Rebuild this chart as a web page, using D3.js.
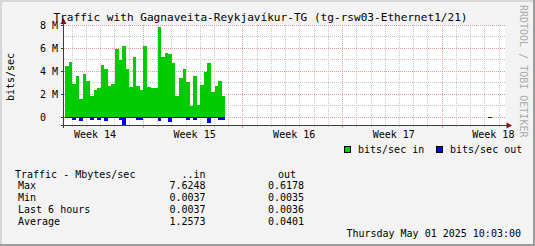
<!DOCTYPE html>
<html>
<head>
<meta charset="utf-8">
<script src="https://cdn.jsdelivr.net/npm/d3@7"></script>
<style>
    body { margin: 0; background: #f3f3f3; }
    svg { display: block; font-family: "DejaVu Sans Mono", monospace; }
</style>
</head>
<body>
<svg id="chart" width="535" height="246"></svg>
<script>
const title = "Traffic with Gagnaveita-Reykjavíkur-TG (tg-rsw03-Ethernet1/21)";
const graphStart = new Date("2025-03-31T10:03:00Z");
const graphEnd = new Date("2025-05-01T10:03:00Z");
const stepMs = 6 * 3600 * 1000;

// 6 hour samples, Mbit/s
const burstStart = new Date("2025-03-31T12:00:00Z");
const inMbits = [4.45, 4.77, 2.9, 3.59, 1.6, 3.76, 3.1, 1.86, 2.38, 2.5,
    4.54, 4.17, 2.72, 2.9, 5.93, 4.97, 6.18, 4.2, 2.58, 5.2,
    2.72, 2.38, 6.18, 2.64, 2.5, 2.5, 7.8, 5.23, 5.6, 5.46,
    4.69, 1.86, 3.36, 4.17, 3.01, 1.0, 3.53, 1.08, 2.81, 3.88,
    4.69, 2.15, 2.72, 3.18, 1.86];
const outMbits = [0.004, 0.004, 0.28, 0.004, 0.3, 0.004, 0.004, 0.25, 0.004, 0.25,
    0.004, 0.3, 0.004, 0.004, 0.004, 0.25, 0.66, 0.004, 0.004, 0.004,
    0.25, 0.25, 0.004, 0.004, 0.004, 0.004, 0.3, 0.004, 0.004, 0.42,
    0.004, 0.004, 0.06, 0.004, 0.25, 0.004, 0.25, 0.004, 0.004, 0.004,
    0.5, 0.004, 0.004, 0.25, 0.25];
const tailStart = new Date("2025-04-30T06:00:00Z");
const tailIn = [0.0037];
const tailOut = [0.0036];

const yTicks = [0, 2, 4, 6, 8];
const yTickLabels = ["0", "2 M", "4 M", "6 M", "8 M"];
const yMinorTicks = [1, 3, 5, 7];
const weekStarts = ["2025-03-30", "2025-04-06", "2025-04-13", "2025-04-20", "2025-04-27"];
const weekLabels = ["Week 14", "Week 15", "Week 16", "Week 17", "Week 18"];

const legendLabels = ["bits/sec in", "bits/sec out"];
const statHeader = ["Traffic - Mbytes/sec", "..in", "out"];
const statRows = ["Max", "Min", "Last 6 hours", "Average"];
const statIn = ["7.6248", "0.0037", "0.0037", "1.2573"];
const statOut = ["0.6178", "0.0035", "0.0036", "0.0401"];
const footer = "Thursday May 01 2025 10:03:00";
const watermark = "RRDTOOL / TOBI OETIKER";

const IN_COLOR = "#00cc00", OUT_COLOR = "#0000ff";
const GRID = "#c4c4c4", MGRID = "#e39c9c", AXIS = "#3c3c3c", ARROW = "#8b1010";

function makeChart(selector) {
    const svg = d3.select(selector);
    const W = 535, H = 246;
    const left = 64, right = 505, top = 25, bottom = 125.3;
    const x = d3.scaleUtc().domain([graphStart, graphEnd]).range([left, right]);
    const y = d3.scaleLinear().domain([-0.71, 8]).range([bottom, top]);
    const px = v => Math.floor(v) + 0.5;

    // frame
    svg.append('rect').attr('width', W).attr('height', H).attr('fill', '#f3f3f3');
    svg.append('path').attr('d', `M0,0H${W}V2H2V${H}H0Z`).attr('fill', '#d6d6d6');
    svg.append('path').attr('d', `M${W},${H}H0V${H - 2}H${W - 2}V0H${W}Z`).attr('fill', '#9c9c9c');

    svg.append('rect')
        .attr('x', left).attr('y', top)
        .attr('width', right - left).attr('height', bottom - top)
        .attr('fill', '#fff');

    // grid
    const grid = svg.append('g').attr('stroke-width', 1).attr('stroke-dasharray', '1,1');
    const sundays = weekStarts.map(d => new Date(d + "T00:00:00Z"));
    const days = d3.utcDay.range(graphStart, graphEnd)
        .filter(d => d.getUTCDay() !== 0);
    grid.selectAll('.vminor').data(days).join('line')
        .attr('x1', d => px(x(d))).attr('x2', d => px(x(d)))
        .attr('y1', top).attr('y2', bottom)
        .attr('stroke', GRID);
    grid.selectAll('.hminor').data(yMinorTicks).join('line')
        .attr('x1', left).attr('x2', right)
        .attr('y1', d => px(y(d))).attr('y2', d => px(y(d)))
        .attr('stroke', GRID);
    const majorDays = sundays.filter(d => d > graphStart);
    grid.selectAll('.vmajor').data(majorDays).join('line')
        .attr('x1', d => px(x(d))).attr('x2', d => px(x(d)))
        .attr('y1', top).attr('y2', bottom)
        .attr('stroke', MGRID);
    grid.selectAll('.hmajor').data(yTicks).join('line')
        .attr('x1', left).attr('x2', right)
        .attr('y1', d => px(y(d))).attr('y2', d => px(y(d)))
        .attr('stroke', MGRID);

    // data
    const series = (start, vals) => {
        let pts = vals.map((v, i) => ({ t: new Date(+start + i * stepMs), v: v }));
        pts.push({ t: new Date(+start + vals.length * stepMs), v: vals[vals.length - 1] });
        return pts;
    };
    const inArea = d3.area().curve(d3.curveStepAfter)
        .x(d => x(d.t)).y0(y(0)).y1(d => y(d.v));
    const outArea = d3.area().curve(d3.curveStepAfter)
        .x(d => x(d.t)).y0(y(0)).y1(d => Math.max(y(-d.v), y(0) + 1));

    svg.append('clipPath').attr('id', 'plot-clip')
        .append('rect').attr('x', left).attr('y', top - 5)
        .attr('width', right - left).attr('height', bottom - top + 5);
    const marks = svg.append('g').attr('clip-path', 'url(#plot-clip)')
        .attr('shape-rendering', 'crispEdges');
    [[burstStart, inMbits, outMbits], [tailStart, tailIn, tailOut]].forEach(([start, vin, vout]) => {
        marks.append('path').attr('d', inArea(series(start, vin))).attr('fill', IN_COLOR);
        marks.append('path').attr('d', outArea(series(start, vout))).attr('fill', OUT_COLOR);
    });

    // axes
    const axis = svg.append('g').attr('shape-rendering', 'crispEdges');
    axis.selectAll('.xtick').data(days).join('line')
        .attr('x1', d => px(x(d))).attr('x2', d => px(x(d)))
        .attr('y1', bottom).attr('y2', bottom + 2).attr('stroke', GRID);
    axis.selectAll('.xmtick').data(majorDays).join('line')
        .attr('x1', d => px(x(d))).attr('x2', d => px(x(d)))
        .attr('y1', bottom).attr('y2', bottom + 3).attr('stroke', MGRID);
    axis.selectAll('.ytick').data(yTicks).join('line')
        .attr('x1', left - 3).attr('x2', left)
        .attr('y1', d => px(y(d))).attr('y2', d => px(y(d))).attr('stroke', AXIS);
    axis.append('line')
        .attr('x1', left - 3).attr('x2', right + 2)
        .attr('y1', px(bottom)).attr('y2', px(bottom))
        .attr('stroke', AXIS);
    axis.append('line')
        .attr('x1', px(left - 1)).attr('x2', px(left - 1))
        .attr('y1', bottom + 3).attr('y2', top - 2)
        .attr('stroke', AXIS);
    svg.append('path')
        .attr('d', `M${right + 1.5},${px(bottom) - 3}L${right + 7},${px(bottom)}L${right + 1.5},${px(bottom) + 3}Z`)
        .attr('fill', ARROW);
    svg.append('path')
        .attr('d', `M${px(left - 1) - 3},${top - 1}L${px(left - 1)},${top - 7}L${px(left - 1) + 3},${top - 1}Z`)
        .attr('fill', ARROW);

    // labels
    const txt = svg.append('g').attr('font-size', '10px').attr('fill', '#000');
    txt.selectAll('.ylab').data(yTicks).join('text')
        .attr('x', 40).attr('y', d => y(d)).attr('dy', '0.36em')
        .text((d, i) => yTickLabels[i]);
    txt.selectAll('.xlab').data(weekLabels).join('text')
        .attr('x', (d, i) => x(new Date(+sundays[i] + 3.6 * 864e5)))
        .attr('y', 134.7).attr('dy', '0.36em')
        .attr('text-anchor', 'middle')
        .text(d => d);
    txt.append('text')
        .attr('transform', 'translate(10.8,77) rotate(-90)')
        .attr('text-anchor', 'middle').attr('dy', '0.36em')
        .text('bits/sec');
    svg.append('text')
        .attr('x', 260.5).attr('y', 16.7).attr('dy', '0.36em')
        .attr('text-anchor', 'middle').attr('font-size', '11.1px')
        .text(title);
    svg.append('text')
        .attr('transform', 'translate(523.3,5) rotate(90)')
        .attr('dy', '0.36em').attr('font-size', '10px').attr('fill', '#aaa')
        .text(watermark);

    // legend
    const legendX = [344, 436];
    [IN_COLOR, OUT_COLOR].forEach((c, i) => {
        svg.append('rect')
            .attr('x', legendX[i] + 0.5).attr('y', 146.5)
            .attr('width', 6).attr('height', 6)
            .attr('fill', c).attr('stroke', '#000');
        txt.append('text')
            .attr('x', legendX[i] + 14).attr('y', 149.5).attr('dy', '0.36em')
            .text(legendLabels[i]);
    });

    // stats table
    const rowY = [174.3, 185.5, 197.5, 209.5, 221.5];
    txt.append('text').attr('x', 15).attr('y', rowY[0]).attr('dy', '0.36em').text(statHeader[0]);
    txt.append('text').attr('x', 205.5).attr('y', rowY[0]).attr('dy', '0.36em')
        .attr('text-anchor', 'end').text(statHeader[1]);
    txt.append('text').attr('x', 278).attr('y', rowY[0]).attr('dy', '0.36em').text(statHeader[2]);
    statRows.forEach((r, i) => {
        txt.append('text').attr('x', 18).attr('y', rowY[i + 1]).attr('dy', '0.36em').text(r);
        txt.append('text').attr('x', 205.5).attr('y', rowY[i + 1]).attr('dy', '0.36em')
            .attr('text-anchor', 'end').text(statIn[i]);
        txt.append('text').attr('x', 268).attr('y', rowY[i + 1]).attr('dy', '0.36em').text(statOut[i]);
    });
    txt.append('text').attr('x', 521).attr('y', 233.3).attr('dy', '0.36em')
        .attr('text-anchor', 'end').text(footer);
}

makeChart('#chart');
</script>
</body>
</html>
